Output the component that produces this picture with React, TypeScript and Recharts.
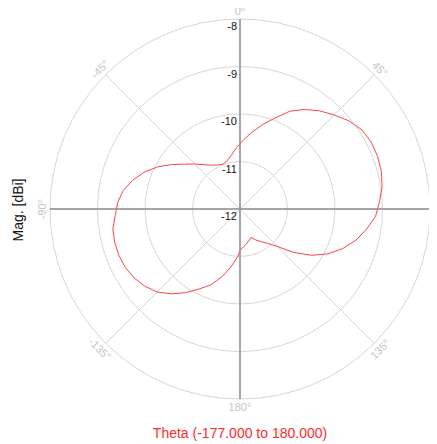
import React from "react";
import { RadarChart, Radar, PolarGrid, PolarAngleAxis, PolarRadiusAxis } from "recharts";

const thetaDeg = [
  -177, -171, -165, -159, -153, -147, -141, -135, -129, -123, -117, -111, -105, -99, -93,
  -87, -81, -75, -69, -63, -57, -51, -45, -39, -33, -27, -21, -15, -9, -3,
  3, 9, 15, 21, 27, 33, 39, 45, 51, 57, 63, 69, 75, 81, 87,
  93, 99, 105, 111, 117, 123, 129, 135, 141, 147, 153, 159, 165, 171, 177, 180,
];
const magDbi = [
  -10.99, -10.76, -10.52, -10.29, -10.11, -9.9, -9.7, -9.53, -9.42, -9.34, -9.29, -9.27, -9.27, -9.29, -9.37,
  -9.42, -9.51, -9.66, -9.84, -10.05, -10.28, -10.5, -10.66, -10.8, -10.9, -10.96, -10.99, -10.95, -10.85, -10.7,
  -10.54, -10.36, -10.16, -9.95, -9.69, -9.5, -9.34, -9.2, -9.05, -8.94, -8.9, -8.9, -8.92, -8.97, -9.06,
  -9.14, -9.3, -9.47, -9.68, -9.92, -10.21, -10.55, -10.88, -11.07, -11.18, -11.27, -11.36, -11.3, -11.24, -11.17, -11.13,
];
const angleTicks = [-135, -90, -45, 0, 45, 90, 135, 180];
const radiusTicks = [-12, -11, -10, -9, -8];
const xTitle = "Theta (-177.000 to 180.000)";
const yTitle = "Mag. [dBi]";

const data = thetaDeg.map((t, i) => ({ theta: t, mag: magDbi[i] }));

const AngleTick = (props: any) => {
  const { x, y, payload } = props;
  const v = payload.value as number;
  let rot = v;
  if (v > 90) rot = v - 180;
  if (v < -90) rot = v + 180;
  return (
    <text
      x={x}
      y={y}
      textAnchor="middle"
      dominantBaseline="central"
      fontSize={11}
      fill="#c4c4c4"
      fontFamily="Liberation Sans, Arial, sans-serif"
      transform={`rotate(${rot}, ${x}, ${y})`}
    >
      {`${v}°`}
    </text>
  );
};

const RadiusTick = (props: any) => {
  const { x, y, payload } = props;
  return (
    <text
      x={x - 3}
      y={y + 7}
      textAnchor="end"
      dominantBaseline="central"
      fontSize={11}
      fill="#111"
      fontFamily="Liberation Sans, Arial, sans-serif"
    >
      {payload.value}
    </text>
  );
};

const crossAxes = [
  { id: "b", angle: 270 },
  { id: "c", angle: 0 },
  { id: "d", angle: 180 },
];

export default function App() {
  const W = 437;
  const H = 444;
  const cx = 240;
  const cy = 209;
  const axisLineStyle = { stroke: "#8f8f8f", strokeWidth: 1.5 };
  return (
    <div style={{ position: "relative", width: W, height: H, margin: "-8px 0 0 -8px", fontFamily: "Liberation Sans, Arial, sans-serif" }}>
      <RadarChart
        width={W}
        height={H}
        data={data}
        cx={cx}
        cy={cy}
        outerRadius={190}
        startAngle={270}
        endAngle={-90}
        margin={{ top: 0, right: 0, bottom: 0, left: 0 }}
      >
        <PolarGrid gridType="circle" stroke="#d6d6d6" strokeWidth={1} />
        <PolarAngleAxis
          dataKey="theta"
          type="number"
          domain={[-180, 180]}
          ticks={angleTicks}
          axisLine={false}
          tickLine={false}
          tick={AngleTick}
        />
        {crossAxes.map((a) => (
          <PolarRadiusAxis
            key={a.id}
            radiusAxisId={a.id}
            angle={a.angle}
            type="number"
            domain={[-12, -8]}
            ticks={radiusTicks}
            axisLine={axisLineStyle}
            tickLine={false}
            tick={false}
          />
        ))}
        {crossAxes.map((a) => (
          <Radar
            key={`r-${a.id}`}
            radiusAxisId={a.id}
            dataKey="mag"
            stroke="none"
            fill="none"
            fillOpacity={0}
            dot={false}
            legendType="none"
            isAnimationActive={false}
          />
        ))}
        <PolarRadiusAxis
          angle={90}
          type="number"
          domain={[-12, -8]}
          ticks={radiusTicks}
          tickCount={5}
          axisLine={axisLineStyle}
          tickLine={false}
          tick={RadiusTick}
        />
        <Radar
          dataKey="mag"
          stroke="#ff4444"
          strokeWidth={1}
          fill="none"
          fillOpacity={0}
          dot={false}
          isAnimationActive={false}
        />
      </RadarChart>
      <div
        style={{
          position: "absolute",
          left: cx - 150,
          width: 300,
          top: 425,
          height: 16,
          lineHeight: "16px",
          textAlign: "center",
          fontSize: 14,
          color: "#ff2a2a",
        }}
      >
        {xTitle}
      </div>
      <div
        style={{
          position: "absolute",
          left: 18 - 50,
          width: 100,
          top: 202,
          height: 16,
          lineHeight: "16px",
          textAlign: "center",
          fontSize: 14,
          color: "#111",
          transform: "rotate(-90deg)",
        }}
      >
        {yTitle}
      </div>
    </div>
  );
}
